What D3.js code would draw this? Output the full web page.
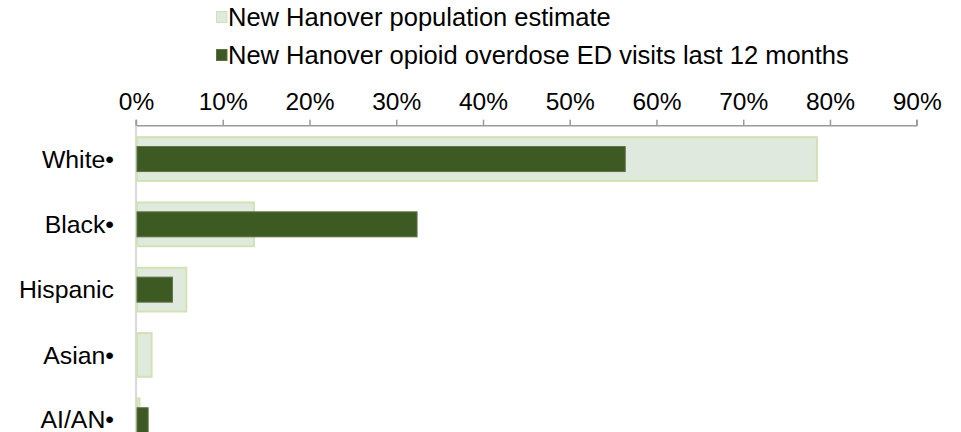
<!DOCTYPE html>
<html>
<head>
<meta charset="utf-8">
<script src="https://cdn.jsdelivr.net/npm/d3@7"></script>
<style>
  html, body { margin: 0; padding: 0; background: #fff; }
  svg { display: block; font-family: "Liberation Sans", Arial, sans-serif; }
</style>
</head>
<body>
<svg id="chart" width="961" height="432"></svg>
<script>
// ---- data ----
const categories = ["White•", "Black•", "Hispanic", "Asian•", "AI/AN•"];
const populationEstimate = [78.5, 13.6, 5.8, 1.8, 0.4];
const edVisits = [56.4, 32.4, 4.2, 0, 1.4];
const tickValues = [0, 10, 20, 30, 40, 50, 60, 70, 80, 90];
const seriesNames = ["New Hanover population estimate", "New Hanover opioid overdose ED visits last 12 months"];

// ---- styles ----
const popFill = "#e0e9dd", popStroke = "#d2e3b3";
const edFill = "#3e5a23", edStroke = "#5d7147";

const svg = d3.select("#chart");
const x = d3.scaleLinear().domain([0, 90]).range([136, 916.7]);
const step = 65.3;
const y = d3.scaleBand().domain(categories).range([126.4, 126.4 + step * categories.length]).padding(0);

// axis
const axis = d3.axisTop(x).tickValues(tickValues).tickSize(6).tickPadding(10)
  .tickFormat(d => d + "%");
const gAxis = svg.append("g").attr("transform", "translate(0,125.7)").call(axis);
gAxis.select(".domain").attr("stroke", "#9a9a9a").attr("stroke-width", 1.5)
  .attr("d", `M${x(0)},-6V0H${x(90)}V-6`);
gAxis.selectAll(".tick line").attr("stroke", "#9a9a9a").attr("stroke-width", 1.5);
gAxis.selectAll(".tick text").attr("fill", "#000").attr("font-size", 24.5)
  .attr("font-family", "'Liberation Sans', Arial, sans-serif");

// vertical axis line
svg.append("line").attr("x1", x(0)).attr("x2", x(0)).attr("y1", 125.7).attr("y2", 432)
  .attr("stroke", "#d9d9d9").attr("stroke-width", 2);

// population bars
const popH = step * 0.67;
svg.append("g").selectAll("rect").data(categories).join("rect")
  .attr("x", x(0) + 1)
  .attr("y", d => y(d) + y.bandwidth() / 2 - popH / 2)
  .attr("width", (d, i) => Math.max(0, x(populationEstimate[i]) - x(0) - 1))
  .attr("height", popH)
  .attr("fill", popFill).attr("stroke", popStroke).attr("stroke-width", 2);

// ED bars
const edH = step * 0.383;
svg.append("g").selectAll("rect").data(categories.filter((d, i) => edVisits[i] > 0)).join("rect")
  .attr("x", x(0) + 1)
  .attr("y", d => y(d) + y.bandwidth() / 2 - edH / 2)
  .attr("width", d => x(edVisits[categories.indexOf(d)]) - x(0) - 1)
  .attr("height", edH)
  .attr("fill", edFill).attr("stroke", edStroke).attr("stroke-width", 1);

// category labels
svg.append("g").selectAll("text").data(categories).join("text")
  .attr("x", 114)
  .attr("y", (d, i) => y(d) + y.bandwidth() / 2 - (i === categories.length - 1 ? 1 : 0))
  .attr("dy", "0.35em")
  .attr("text-anchor", "end")
  .attr("font-size", 24.8)
  .attr("fill", "#000")
  .text(d => d);

// legend
const legendY = [17, 55];
const legend = svg.append("g");
legend.selectAll("rect").data(seriesNames).join("rect")
  .attr("x", 216.5).attr("y", (d, i) => legendY[i] - 5.5)
  .attr("width", 10.5).attr("height", 11)
  .attr("fill", (d, i) => i === 0 ? popFill : edFill)
  .attr("stroke", (d, i) => i === 0 ? popStroke : edStroke)
  .attr("stroke-width", 1);
legend.selectAll("text").data(seriesNames).join("text")
  .attr("x", 228).attr("y", (d, i) => legendY[i])
  .attr("dy", "0.35em")
  .attr("font-size", 25.5).attr("fill", "#000")
  .text(d => d);
</script>
</body>
</html>
